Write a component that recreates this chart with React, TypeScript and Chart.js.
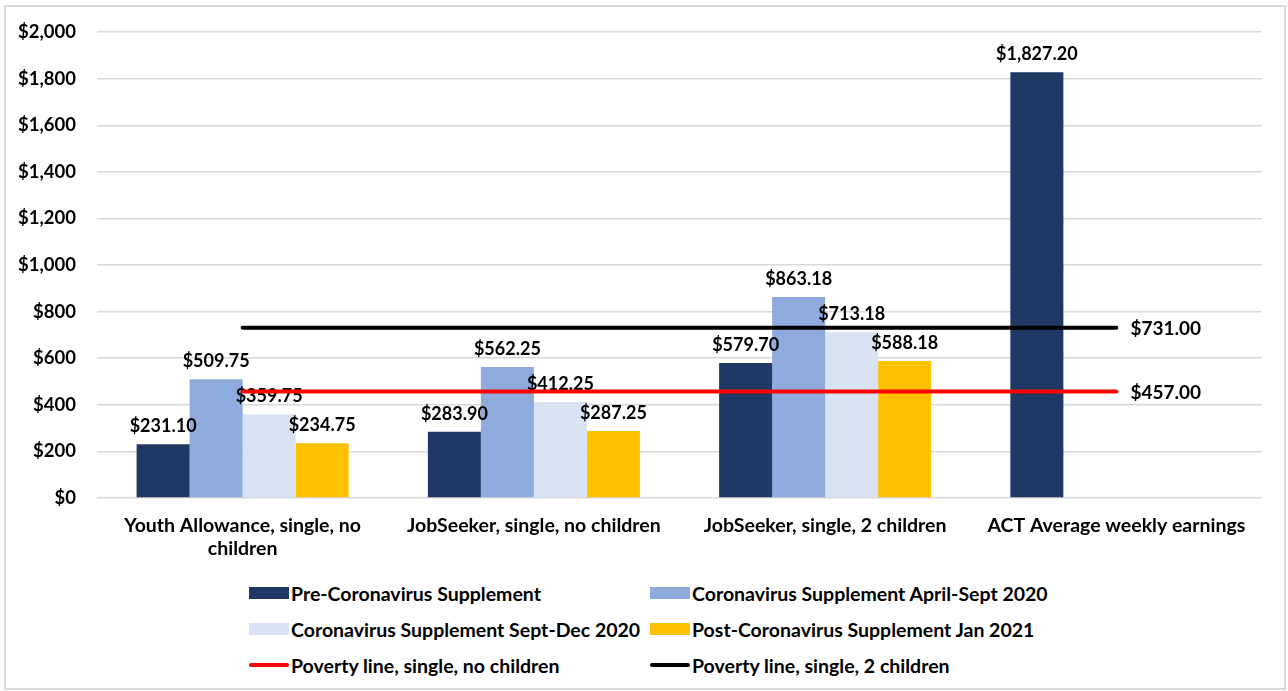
import React, { useEffect, useRef } from "react";
import { Chart, registerables } from "chart.js";

Chart.register(...registerables);

const categories: (string | string[])[] = [
  ["Youth Allowance, single, no", "children"],
  "JobSeeker, single, no children",
  "JobSeeker, single, 2 children",
  "ACT Average weekly earnings",
];

const preSupplement = [231.1, 283.9, 579.7, 1827.2];
const aprilSept2020 = [509.75, 562.25, 863.18, null];
const septDec2020 = [359.75, 412.25, 713.18, null];
const postJan2021 = [234.75, 287.25, 588.18, null];
const povertyNoChildren = [457, 457, 457, 457];
const povertyTwoChildren = [731, 731, 731, 731];

const yTicks = { min: 0, max: 2000, step: 200 };

const FONT = "Lato, 'Open Sans', sans-serif";

const money = (v: number) =>
  "$" + v.toLocaleString("en-US", { minimumFractionDigits: 2, maximumFractionDigits: 2 });

const legendItems = [
  { label: "Pre-Coronavirus Supplement", color: "#203864", kind: "box" },
  { label: "Coronavirus Supplement April-Sept 2020", color: "#8FAADC", kind: "box" },
  { label: "Coronavirus Supplement Sept-Dec 2020", color: "#DAE3F3", kind: "box" },
  { label: "Post-Coronavirus Supplement Jan 2021", color: "#FFC000", kind: "box" },
  { label: "Poverty line, single, no children", color: "#FF0000", kind: "line" },
  { label: "Poverty line, single, 2 children", color: "#000000", kind: "line" },
];

const labelPlugin = {
  id: "valueLabels",
  afterDatasetDraw(chart: any, args: any) {
    if (args.meta.type !== "bar" || args.index !== 0) return;
    const ctx = chart.ctx;
    ctx.save();
    ctx.font = `bold 18px ${FONT}`;
    ctx.fillStyle = "#000";
    ctx.textAlign = "center";
    ctx.textBaseline = "alphabetic";
    chart.data.datasets.forEach((ds: any, di: number) => {
      if (ds.type === "line") return;
      const meta = chart.getDatasetMeta(di);
      meta.data.forEach((el: any, i: number) => {
        const v = ds.data[i];
        if (v === null || v === undefined) return;
        ctx.fillText(money(v), el.x, el.y - 12);
      });
    });
    ctx.restore();
  },
  afterDatasetsDraw(chart: any) {
    const ctx = chart.ctx;
    ctx.save();
    ctx.font = `bold 19px ${FONT}`;
    ctx.fillStyle = "#000";
    ctx.textAlign = "left";
    ctx.textBaseline = "middle";
    chart.data.datasets.forEach((ds: any, di: number) => {
      if (ds.type !== "line") return;
      const meta = chart.getDatasetMeta(di);
      const last = meta.data[meta.data.length - 1];
      ctx.fillText(money(ds.data[ds.data.length - 1]), last.x + 14, last.y + 1);
    });
    ctx.restore();
  },
};

export default function App() {
  const ref = useRef<HTMLCanvasElement | null>(null);

  useEffect(() => {
    if (!ref.current) return;
    const barCommon = { order: 1, categoryPercentage: 0.728, barPercentage: 1, borderWidth: 0 };
    const chart = new Chart(ref.current, {
      type: "bar",
      data: {
        labels: categories,
        datasets: [
          { ...barCommon, type: "bar", label: "Pre-Coronavirus Supplement", data: preSupplement, backgroundColor: "#203864" },
          { ...barCommon, type: "bar", label: "Coronavirus Supplement April-Sept 2020", data: aprilSept2020, backgroundColor: "#8FAADC" },
          { ...barCommon, type: "bar", label: "Coronavirus Supplement Sept-Dec 2020", data: septDec2020, backgroundColor: "#DAE3F3" },
          { ...barCommon, type: "bar", label: "Post-Coronavirus Supplement Jan 2021", data: postJan2021, backgroundColor: "#FFC000" },
          {
            type: "line", order: 0, label: "Poverty line, single, no children", data: povertyNoChildren,
            borderColor: "#FF0000", backgroundColor: "#FF0000", borderWidth: 4, pointRadius: 0, borderCapStyle: "round",
          },
          {
            type: "line", order: 0, label: "Poverty line, single, 2 children", data: povertyTwoChildren,
            borderColor: "#000000", backgroundColor: "#000000", borderWidth: 4, pointRadius: 0, borderCapStyle: "round",
          },
        ] as any,
      },
      options: {
        animation: false,
        responsive: true,
        maintainAspectRatio: false,
        layout: { padding: { top: 28.5, right: 26, left: 0, bottom: 0 } },
        plugins: { legend: { display: false }, tooltip: { enabled: false } },
        scales: {
          x: {
            grid: { display: false },
            border: { display: false },
            ticks: { color: "#000", font: { family: FONT, size: 19.5, weight: "bold", lineHeight: 1.2 }, padding: 8, maxRotation: 0, autoSkip: false },
            afterFit: (s: any) => { s.height = 72; },
          },
          y: {
            min: yTicks.min,
            max: yTicks.max,
            grid: { color: "#D9D9D9", lineWidth: 1.5, drawTicks: false },
            border: { display: false },
            ticks: {
              stepSize: yTicks.step,
              color: "#000",
              padding: 21,
              font: { family: FONT, size: 18.5, weight: "bold" },
              callback: (v: any) => "$" + Number(v).toLocaleString("en-US"),
            },
            afterFit: (s: any) => { s.width = 97; },
          },
        },
      } as any,
      plugins: [labelPlugin],
    });
    return () => chart.destroy();
  }, []);

  return (
    <div style={{ position: "fixed", left: 0, top: 0, width: 1288, height: 691, background: "#fff", fontFamily: FONT }}>
      <div style={{ position: "absolute", left: 4, top: 5, width: 1282, height: 685, border: "2px solid #D9D9D9", boxSizing: "border-box" }} />
      <div style={{ position: "absolute", left: 0, top: 0, width: 1288, height: 570 }}>
        <canvas ref={ref} />
      </div>
      <div
        style={{
          position: "absolute", left: 249, top: 575, display: "grid",
          gridTemplateColumns: "401px 440px", gridAutoRows: "36px", alignItems: "center",
        }}
      >
        {legendItems.map((it) => (
          <div key={it.label} style={{ display: "flex", alignItems: "center", fontWeight: "bold", fontSize: 19.5, color: "#000", whiteSpace: "nowrap" }}>
            {it.kind === "box" ? (
              <span style={{ display: "inline-block", width: 40, height: 12, background: it.color, marginRight: 2 }} />
            ) : (
              <span style={{ display: "inline-block", width: 40, height: 4, borderRadius: 2, background: it.color, marginRight: 2 }} />
            )}
            <span>{it.label}</span>
          </div>
        ))}
      </div>
    </div>
  );
}
